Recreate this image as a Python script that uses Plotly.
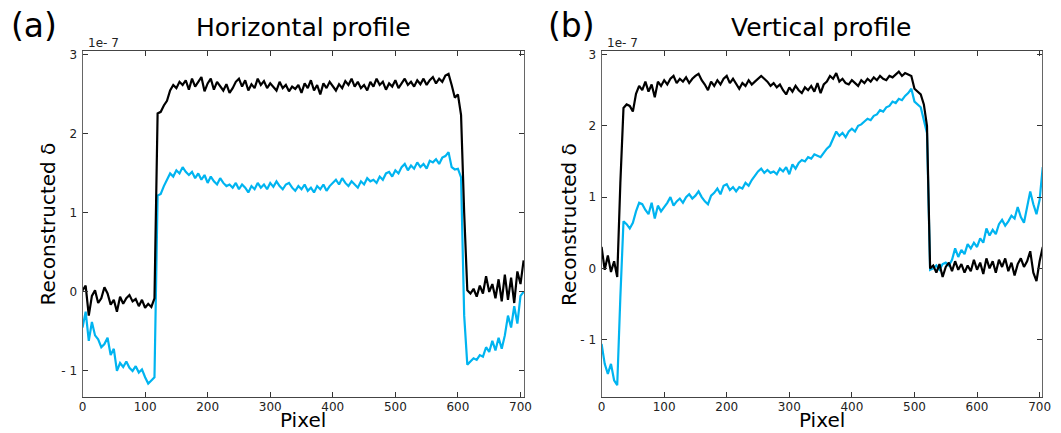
import plotly.graph_objects as go

# ---------------- data (values in units of 1e-7) ----------------
pixel = list(range(0, 706, 5))

horiz_black = [
    0.02, 0.08, -0.30, -0.05, 0.02, -0.14, -0.08, 0.06, -0.02, -0.16,
    -0.10, -0.25, -0.06, -0.15, -0.08, -0.04, -0.12, -0.09, -0.18, -0.10,
    -0.20, -0.15, -0.19, -0.08, 2.26, 2.28, 2.36, 2.42, 2.55, 2.62,
    2.58, 2.66, 2.62, 2.68, 2.56, 2.70, 2.60, 2.66, 2.72, 2.54,
    2.64, 2.70, 2.56, 2.66, 2.60, 2.55, 2.63, 2.52, 2.58, 2.66,
    2.70, 2.60, 2.68, 2.55, 2.63, 2.58, 2.70, 2.62, 2.67, 2.58,
    2.64, 2.60, 2.55, 2.66, 2.58, 2.62, 2.54, 2.60, 2.57, 2.62,
    2.52, 2.64, 2.58, 2.68, 2.55, 2.62, 2.50, 2.64, 2.58, 2.66,
    2.60, 2.55, 2.63, 2.58, 2.67, 2.62, 2.70, 2.60, 2.66, 2.58,
    2.62, 2.55, 2.66, 2.60, 2.70, 2.62, 2.66, 2.56, 2.64, 2.60,
    2.68, 2.58, 2.64, 2.70, 2.62, 2.66, 2.60, 2.68, 2.63, 2.70,
    2.62, 2.68, 2.72, 2.64, 2.70, 2.66, 2.74, 2.76, 2.62, 2.46,
    2.50, 2.24, 1.00, 0.02, -0.02, 0.04, -0.06, 0.08, -0.02, 0.20,
    0.00, 0.10, -0.08, 0.16, -0.12, 0.22, -0.10, 0.18, -0.14, 0.26,
    0.10, 0.40,
]

horiz_blue = [
    -0.45, -0.25, -0.62, -0.38, -0.55, -0.60, -0.70, -0.66, -0.58, -0.80,
    -0.72, -1.00, -0.90, -0.95, -0.88, -0.96, -1.00, -0.94, -1.02, -0.98,
    -1.08, -1.16, -1.12, -1.08, 1.22, 1.24, 1.34, 1.42, 1.50, 1.46,
    1.54, 1.50, 1.58, 1.52, 1.48, 1.52, 1.44, 1.50, 1.42, 1.48,
    1.38, 1.46, 1.40, 1.36, 1.44, 1.38, 1.34, 1.36, 1.32, 1.38,
    1.30, 1.36, 1.32, 1.26, 1.34, 1.30, 1.38, 1.32, 1.36, 1.30,
    1.38, 1.33, 1.40, 1.34, 1.30, 1.36, 1.38, 1.32, 1.28, 1.34,
    1.30, 1.36, 1.28, 1.32, 1.26, 1.34, 1.30, 1.36, 1.28, 1.34,
    1.38, 1.42, 1.36, 1.44, 1.38, 1.34, 1.40, 1.36, 1.32, 1.40,
    1.36, 1.44, 1.40, 1.42, 1.38, 1.46, 1.42, 1.50, 1.52, 1.46,
    1.54, 1.50, 1.58, 1.62, 1.54, 1.60, 1.56, 1.64, 1.58, 1.62,
    1.56, 1.66, 1.64, 1.68, 1.62, 1.70, 1.72, 1.77, 1.58, 1.55,
    1.56, 1.45, -0.30, -0.92, -0.88, -0.84, -0.86, -0.80, -0.82, -0.70,
    -0.76, -0.62, -0.74, -0.58, -0.72, -0.55, -0.30, -0.45, -0.18, -0.40,
    -0.05, 0.00,
]

vert_black = [
    0.30, -0.02, 0.18, -0.05, 0.10, -0.12, 1.20, 2.25, 2.30, 2.28,
    2.20, 2.45, 2.56, 2.50, 2.62, 2.48, 2.58, 2.40, 2.62, 2.56,
    2.64, 2.58, 2.66, 2.70, 2.60, 2.66, 2.62, 2.68, 2.60, 2.66,
    2.70, 2.73, 2.64, 2.58, 2.50, 2.62, 2.56, 2.64, 2.58, 2.66,
    2.70, 2.60, 2.66, 2.58, 2.52, 2.60, 2.56, 2.64, 2.58, 2.62,
    2.66, 2.70, 2.66, 2.62, 2.56, 2.60, 2.54, 2.58, 2.50, 2.44,
    2.54, 2.48, 2.56, 2.50, 2.46, 2.54, 2.50, 2.56, 2.48, 2.60,
    2.46, 2.58, 2.62, 2.70, 2.66, 2.74, 2.62, 2.66, 2.60, 2.58,
    2.64, 2.60, 2.56, 2.64, 2.60, 2.66, 2.62, 2.68, 2.64, 2.70,
    2.66, 2.64, 2.70, 2.68, 2.72, 2.76, 2.70, 2.74, 2.72, 2.70,
    2.52, 2.48, 2.44, 2.30, 2.00, 0.00, 0.04, -0.06, 0.06, -0.12,
    0.02, 0.08, -0.04, 0.10, -0.02, 0.06, -0.06, 0.04, -0.04, 0.12,
    -0.02, 0.08, -0.08, 0.14, 0.00, 0.10, -0.06, 0.12, 0.02, 0.14,
    -0.04, 0.08, -0.10, 0.06, 0.14, 0.02, 0.10, 0.24, -0.06, -0.18,
    0.10, 0.30,
]

vert_blue = [
    -1.06, -1.34, -1.48, -1.34, -1.57, -1.64, -0.40, 0.66, 0.62, 0.56,
    0.64, 0.80, 0.92, 0.90, 0.82, 0.76, 0.92, 0.70, 0.88, 0.80,
    0.86, 0.92, 1.00, 0.88, 0.94, 0.98, 0.92, 1.00, 1.04, 0.98,
    1.02, 1.08, 1.00, 0.94, 0.90, 1.02, 1.06, 1.12, 1.04, 1.16,
    1.18, 1.10, 1.14, 1.08, 1.14, 1.12, 1.20, 1.16, 1.24, 1.30,
    1.36, 1.40, 1.34, 1.38, 1.34, 1.36, 1.32, 1.40, 1.36, 1.42,
    1.32, 1.46, 1.40, 1.48, 1.52, 1.50, 1.56, 1.54, 1.60, 1.58,
    1.56, 1.62, 1.68, 1.72, 1.82, 1.92, 1.86, 1.90, 1.84, 1.92,
    1.96, 1.92, 2.00, 2.02, 2.06, 2.10, 2.08, 2.14, 2.16, 2.22,
    2.20, 2.26, 2.28, 2.34, 2.32, 2.38, 2.36, 2.42, 2.46, 2.52,
    2.34, 2.30, 2.26, 2.08, 1.90, -0.02, 0.00, 0.04, -0.02, 0.06,
    0.08, 0.04, 0.12, 0.28, 0.16, 0.26, 0.20, 0.34, 0.28, 0.36,
    0.30, 0.42, 0.36, 0.56, 0.46, 0.54, 0.48, 0.62, 0.68, 0.60,
    0.66, 0.74, 0.70, 0.86, 0.72, 0.64, 0.86, 1.08, 0.90, 0.76,
    0.96, 1.42,
]

y_tickvals = [-1, 0, 1, 2, 3]
y_ticktext = ["- 1", "0", "1", "2", "3"]
x_tickvals = [0, 100, 200, 300, 400, 500, 600, 700]
panel_titles = ["Horizontal profile", "Vertical profile"]
panel_letters = ["(a)", "(b)"]

# ---------------- styling ----------------
W, H = 1061, 433
TOP, BOTTOM = 51, 36
plot_h = H - TOP - BOTTOM
BLACK = "#000000"
BLUE = "#00b4f0"
FONT = "DejaVu Sans"

left_dom = [79.5 / W, 526.7 / W]
right_dom = [605.0 / W, 1051.0 / W]

fig = go.Figure()
fig.add_trace(go.Scatter(x=pixel, y=horiz_blue, mode="lines",
                         line=dict(color=BLUE, width=2.2), xaxis="x", yaxis="y",
                         showlegend=False))
fig.add_trace(go.Scatter(x=pixel, y=horiz_black, mode="lines",
                         line=dict(color=BLACK, width=2.2), xaxis="x", yaxis="y",
                         showlegend=False))
fig.add_trace(go.Scatter(x=pixel, y=vert_blue, mode="lines",
                         line=dict(color=BLUE, width=2.2), xaxis="x2", yaxis="y2",
                         showlegend=False))
fig.add_trace(go.Scatter(x=pixel, y=vert_black, mode="lines",
                         line=dict(color=BLACK, width=2.2), xaxis="x2", yaxis="y2",
                         showlegend=False))

tickfont = dict(family=FONT, size=12, color="#222222")
xcommon = dict(tickvals=x_tickvals, ticks="inside", ticklen=5, tickcolor="#333",
               showline=True, linecolor="#444", linewidth=1.2, mirror="ticks",
               showgrid=False, zeroline=False, tickfont=tickfont,
               ticklabelstandoff=-2)
ycommon = dict(tickvals=y_tickvals, ticktext=y_ticktext, ticks="inside", ticklen=5,
               tickcolor="#333", showline=True, linecolor="#666", linewidth=1.2,
               mirror="ticks", showgrid=False, zeroline=False, tickfont=tickfont,
               ticklabelstandoff=2)

fig.update_layout(
    width=W, height=H,
    margin=dict(l=0, r=0, t=TOP, b=BOTTOM),
    paper_bgcolor="white", plot_bgcolor="white",
    xaxis=dict(domain=left_dom, range=[0, 706], anchor="y", **xcommon),
    yaxis=dict(domain=[0, 1], range=[-1.33, 3.05], anchor="x", **ycommon),
    xaxis2=dict(domain=right_dom, range=[0, 704], anchor="y2", **xcommon),
    yaxis2=dict(domain=[0, 1], range=[-1.805, 3.05], anchor="x2", **ycommon),
)

def py(ypx):
    return (H - BOTTOM - ypx) / plot_h

def px(xpx):
    return xpx / W

ann = []
for i, (dom, title, letter, letter_x, ylab_x, exp_x) in enumerate([
        (left_dom, panel_titles[0], panel_letters[0], 30, 45, 83),
        (right_dom, panel_titles[1], panel_letters[1], 575, 572, 608)]):
    cx = (dom[0] + dom[1]) / 2
    ann.append(dict(text=title, x=cx, y=py(28), xref="paper", yref="paper",
                    xanchor="center", yanchor="middle", showarrow=False,
                    font=dict(family=FONT, size=25, color="black")))
    ann.append(dict(text=letter, x=px(letter_x), y=py(26), xref="paper", yref="paper",
                    xanchor="center", yanchor="middle", showarrow=False,
                    font=dict(family=FONT, size=33, color="black")))
    ann.append(dict(text="Pixel", x=cx, y=py(H), xref="paper", yref="paper",
                    xanchor="center", yanchor="bottom", showarrow=False,
                    borderpad=0,
                    font=dict(family=FONT, size=20, color="black")))
    ann.append(dict(text="Reconstructed δ", x=px(ylab_x), y=py(224), xref="paper",
                    yref="paper", xanchor="center", yanchor="middle", showarrow=False,
                    textangle=-90, font=dict(family=FONT, size=20, color="black")))
    ann.append(dict(text="1e- 7", x=px(exp_x), y=py(43), xref="paper", yref="paper",
                    xanchor="left", yanchor="middle", showarrow=False,
                    font=dict(family=FONT, size=12, color="#222222")))
fig.update_layout(annotations=ann)

fig.write_html("out.html",
               config={"displayModeBar": False},
               post_script="document.body.style.margin='0px';"
                           "document.body.style.overflow='hidden';")
